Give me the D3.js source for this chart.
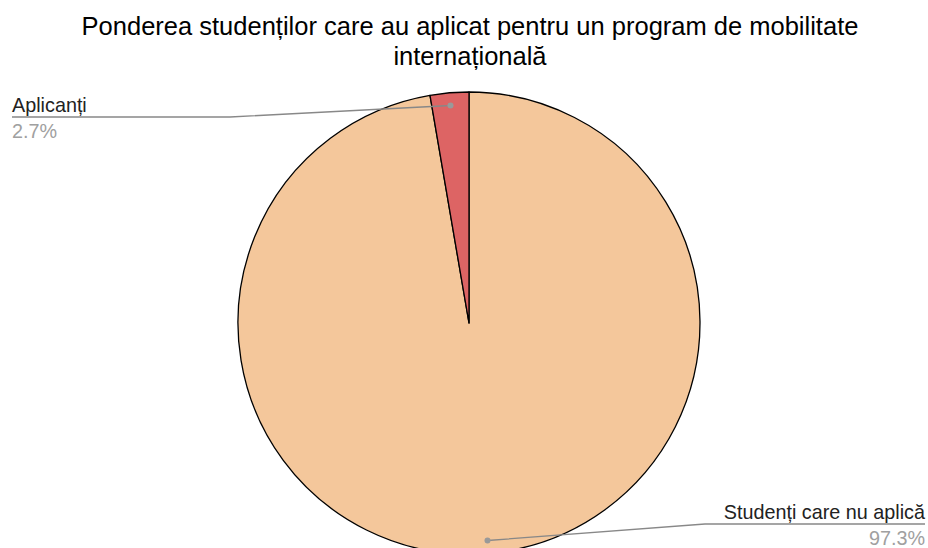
<!DOCTYPE html>
<html><head><meta charset="utf-8">
<script src="https://cdn.jsdelivr.net/npm/d3@7"></script>
<style>body{margin:0;background:#fff}svg{display:block}</style>
</head><body>
<svg id="c" width="928" height="548"></svg>
<script>
const categories = ["Studenți care nu aplică", "Aplicanți"];
const values = [97.3, 2.7];
const valueLabels = ["97.3%", "2.7%"];
const colors = ["#f4c79b", "#dd6464"];
const titleLines = ["Ponderea studenților care au aplicat pentru un program de mobilitate", "internațională"];

const svg = d3.select("#c");
const W = 928, H = 548;
const cx = 469, cy = 323, R = 231;
const font = "'Liberation Sans', Arial, sans-serif";

svg.append("rect").attr("width", W).attr("height", H).attr("fill", "#fff");

const t = svg.append("text").attr("text-anchor", "middle").attr("font-family", font)
  .attr("font-size", 25.5).attr("fill", "#000");
titleLines.forEach((l, i) => t.append("tspan").attr("x", 470).attr("y", 35 + i*30).text(l));

const data = categories.map((c, i) => ({cat: c, v: values[i], lab: valueLabels[i], col: colors[i]}));
const pie = d3.pie().value(d => d.v).sort(null);
const arcs = pie(data);
const arc = d3.arc().innerRadius(0).outerRadius(R);

const g = svg.append("g").attr("transform", `translate(${cx},${cy})`);
g.selectAll("path").data(arcs).join("path")
  .attr("d", arc).attr("fill", d => d.data.col)
  .attr("stroke", "#000").attr("stroke-width", 1.3).attr("stroke-linejoin", "round");

// labels
const inner = d3.arc().innerRadius(R*0.945).outerRadius(R*0.945);
const specs = [
  {elbowX: 705, y: 524, endX: 925, anchor: "end", textX: 925},
  {elbowX: 230, y: 117, endX: 12, anchor: "start", textX: 12}
];
arcs.forEach((a, i) => {
  const [px, py] = inner.centroid(a);
  const x0 = cx + px, y0 = cy + py;
  const s = specs[i];
  svg.append("path").attr("d", `M${x0},${y0}L${s.elbowX},${s.y}L${s.endX},${s.y}`)
    .attr("fill", "none").attr("stroke", "#888").attr("stroke-width", 1.3);
  svg.append("circle").attr("cx", x0).attr("cy", y0).attr("r", 3).attr("fill", "#999");
  svg.append("text").attr("x", s.textX).attr("y", s.y - 5).attr("text-anchor", s.anchor)
    .attr("font-family", font).attr("font-size", 19.8).attr("fill", "#222").text(a.data.cat);
  svg.append("text").attr("x", s.textX).attr("y", s.y + 21).attr("text-anchor", s.anchor)
    .attr("font-family", font).attr("font-size", 19.8).attr("fill", "#a0a0a0").text(a.data.lab);
});
</script>
</body></html>
